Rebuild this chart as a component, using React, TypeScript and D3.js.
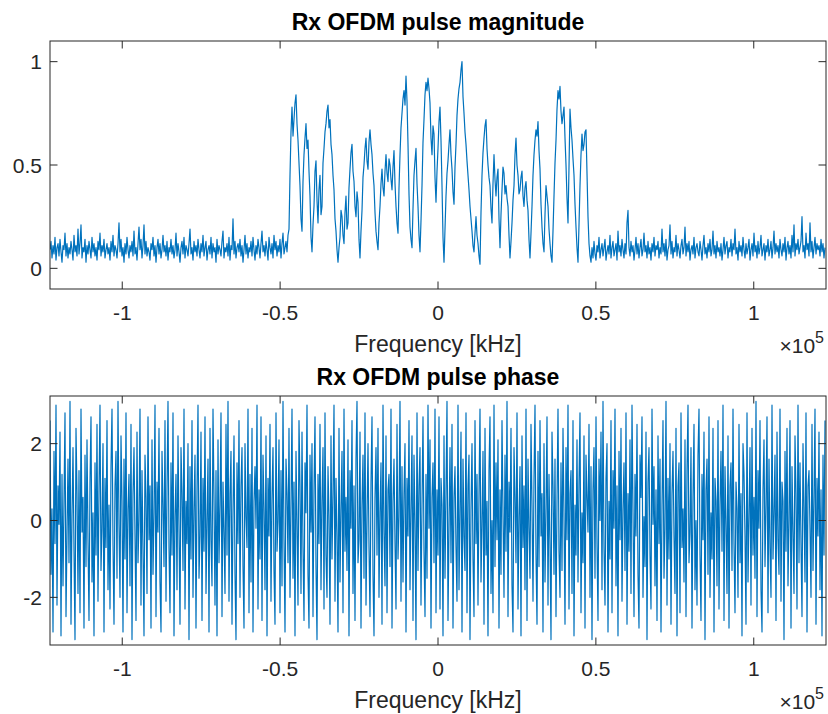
import React, { useEffect, useRef } from 'react';
import * as d3 from 'd3';

// sample rate [Hz]; the spectrum spans -fs/2 .. fs/2
const FS = 245760;

const xTicks = [-1e5, -0.5e5, 0, 0.5e5, 1e5];
const xTickLabels = ['-1', '-0.5', '0', '0.5', '1'];
const magTicks = [0, 0.5, 1];
const magTickLabels = ['0', '0.5', '1'];
const phaseTicks = [-2, 0, 2];
const phaseTickLabels = ['-2', '0', '2'];

// |X(f)|, left noise floor
const magNoiseLeft = [
  0.09, 0.13, 0.05, 0.11, 0.07, 0.15, 0.04, 0.10, 0.12, 0.06,
  0.14, 0.08, 0.03, 0.11, 0.09, 0.17, 0.06, 0.12, 0.05, 0.10,
  0.07, 0.13, 0.09, 0.04, 0.16, 0.08, 0.11, 0.06, 0.19, 0.07,
  0.12, 0.21, 0.05, 0.10, 0.08, 0.14, 0.03, 0.11, 0.07, 0.13,
  0.09, 0.05, 0.15, 0.08, 0.12, 0.06, 0.10, 0.04, 0.13, 0.09,
  0.17, 0.06, 0.11, 0.08, 0.14, 0.05, 0.09, 0.12, 0.07, 0.10,
  0.04, 0.13, 0.08, 0.16, 0.06, 0.11, 0.09, 0.05, 0.12, 0.22,
  0.08, 0.14, 0.06, 0.10, 0.03, 0.12, 0.07, 0.15, 0.09, 0.05,
  0.11, 0.08, 0.13, 0.06, 0.18, 0.07, 0.10, 0.04, 0.12, 0.20,
  0.09, 0.14, 0.05, 0.11, 0.21, 0.07, 0.13, 0.06, 0.10, 0.08,
  0.04, 0.12, 0.09, 0.15, 0.06, 0.11, 0.03, 0.10, 0.14, 0.07,
  0.12, 0.05, 0.09, 0.16, 0.08, 0.11, 0.06, 0.13, 0.04, 0.10,
  0.08, 0.14, 0.07, 0.11, 0.05, 0.09, 0.17, 0.06, 0.12, 0.08,
  0.03, 0.10, 0.13, 0.07, 0.15, 0.05, 0.11, 0.09, 0.06, 0.12,
  0.19, 0.07, 0.10, 0.04, 0.13, 0.08, 0.11, 0.06, 0.14, 0.09,
  0.05, 0.12, 0.08, 0.16, 0.06, 0.10, 0.13, 0.04, 0.09, 0.11,
  0.07, 0.15, 0.05, 0.12, 0.08, 0.10, 0.03, 0.14, 0.07, 0.11,
  0.09, 0.06, 0.13, 0.18, 0.05, 0.10, 0.08, 0.12, 0.06, 0.15,
  0.04, 0.11, 0.09, 0.24, 0.07, 0.13, 0.05, 0.10, 0.12, 0.08,
  0.14, 0.06, 0.11, 0.03, 0.09, 0.16, 0.07, 0.12, 0.05, 0.10,
  0.08, 0.13, 0.06, 0.15, 0.09, 0.04, 0.11, 0.07, 0.14, 0.10,
  0.05, 0.12, 0.18, 0.08, 0.11, 0.06, 0.13, 0.09, 0.04, 0.15,
  0.10, 0.07, 0.12, 0.05, 0.16, 0.09, 0.13, 0.06, 0.11, 0.08,
  0.14, 0.05, 0.12, 0.17, 0.07, 0.10, 0.13, 0.08, 0.16, 0.19,
];

// occupied OFDM band
const magBand = [
  0.45, 0.66, 0.78, 0.64, 0.72, 0.80, 0.84, 0.70, 0.62, 0.51, 0.40, 0.24, 0.18, 0.42, 0.55, 0.63, 0.70, 0.58, 0.62, 0.47,
  0.35, 0.15, 0.08, 0.21, 0.30, 0.47, 0.52, 0.33, 0.22, 0.38, 0.45, 0.26, 0.30, 0.51, 0.58, 0.66, 0.70, 0.76, 0.79, 0.68,
  0.72, 0.60, 0.55, 0.45, 0.38, 0.24, 0.18, 0.09, 0.03, 0.10, 0.15, 0.28, 0.25, 0.16, 0.12, 0.27, 0.35, 0.19, 0.22, 0.39,
  0.48, 0.56, 0.60, 0.47, 0.42, 0.30, 0.25, 0.37, 0.32, 0.14, 0.05, 0.18, 0.28, 0.44, 0.50, 0.58, 0.63, 0.52, 0.48, 0.61,
  0.67, 0.60, 0.55, 0.46, 0.40, 0.27, 0.18, 0.13, 0.09, 0.22, 0.30, 0.41, 0.48, 0.39, 0.35, 0.47, 0.55, 0.46, 0.42, 0.53,
  0.50, 0.43, 0.38, 0.49, 0.57, 0.41, 0.30, 0.22, 0.17, 0.39, 0.55, 0.68, 0.75, 0.82, 0.86, 0.79, 0.93, 0.81, 0.60, 0.36,
  0.20, 0.14, 0.10, 0.29, 0.45, 0.52, 0.58, 0.41, 0.30, 0.16, 0.08, 0.23, 0.40, 0.61, 0.72, 0.84, 0.90, 0.86, 0.92, 0.87,
  0.80, 0.63, 0.55, 0.69, 0.65, 0.44, 0.32, 0.47, 0.58, 0.71, 0.78, 0.62, 0.40, 0.15, 0.03, 0.19, 0.35, 0.46, 0.52, 0.60,
  0.67, 0.55, 0.48, 0.37, 0.31, 0.49, 0.60, 0.74, 0.82, 0.87, 0.90, 0.96, 1.00, 0.83, 0.75, 0.66, 0.60, 0.52, 0.45, 0.38,
  0.30, 0.24, 0.18, 0.11, 0.08, 0.17, 0.25, 0.16, 0.12, 0.06, 0.02, 0.27, 0.45, 0.56, 0.63, 0.69, 0.72, 0.58, 0.50, 0.44,
  0.40, 0.29, 0.22, 0.41, 0.55, 0.43, 0.35, 0.44, 0.48, 0.24, 0.10, 0.26, 0.38, 0.49, 0.46, 0.36, 0.40, 0.34, 0.30, 0.16,
  0.05, 0.13, 0.22, 0.33, 0.40, 0.55, 0.63, 0.50, 0.45, 0.36, 0.38, 0.44, 0.47, 0.35, 0.30, 0.39, 0.42, 0.33, 0.28, 0.14,
  0.05, 0.17, 0.30, 0.45, 0.55, 0.62, 0.67, 0.64, 0.71, 0.57, 0.48, 0.31, 0.20, 0.12, 0.08, 0.26, 0.40, 0.35, 0.30, 0.19,
  0.12, 0.06, 0.03, 0.18, 0.35, 0.51, 0.62, 0.77, 0.86, 0.82, 0.88, 0.76, 0.70, 0.74, 0.78, 0.63, 0.50, 0.34, 0.22, 0.49,
  0.77, 0.68, 0.62, 0.53, 0.45, 0.31, 0.20, 0.10, 0.03, 0.21, 0.40, 0.55, 0.65, 0.57, 0.60, 0.66, 0.67, 0.46, 0.25, 0.12,
];

// right noise floor
const magNoiseRight = [
  0.06, 0.03, 0.10, 0.05, 0.13, 0.07, 0.04, 0.11, 0.08, 0.15,
  0.05, 0.09, 0.12, 0.06, 0.10, 0.14, 0.04, 0.08, 0.11, 0.07,
  0.16, 0.05, 0.10, 0.13, 0.06, 0.09, 0.12, 0.04, 0.18, 0.08,
  0.11, 0.06, 0.14, 0.09, 0.05, 0.12, 0.07, 0.22, 0.28, 0.10,
  0.06, 0.13, 0.08, 0.11, 0.04, 0.09, 0.15, 0.07, 0.12, 0.05,
  0.10, 0.14, 0.06, 0.09, 0.17, 0.08, 0.11, 0.05, 0.13, 0.07,
  0.10, 0.04, 0.12, 0.08, 0.15, 0.06, 0.11, 0.09, 0.13, 0.05,
  0.10, 0.07, 0.19, 0.08, 0.12, 0.06, 0.14, 0.04, 0.09, 0.11,
  0.21, 0.07, 0.13, 0.05, 0.10, 0.08, 0.16, 0.06, 0.12, 0.09,
  0.05, 0.11, 0.14, 0.07, 0.10, 0.20, 0.06, 0.12, 0.08, 0.13,
  0.04, 0.09, 0.11, 0.07, 0.15, 0.05, 0.10, 0.12, 0.08, 0.06,
  0.13, 0.09, 0.04, 0.11, 0.16, 0.07, 0.10, 0.05, 0.12, 0.08,
  0.14, 0.06, 0.09, 0.18, 0.07, 0.11, 0.05, 0.13, 0.08, 0.10,
  0.06, 0.12, 0.04, 0.09, 0.15, 0.07, 0.11, 0.13, 0.05, 0.10,
  0.08, 0.14, 0.06, 0.12, 0.09, 0.19, 0.07, 0.10, 0.04, 0.13,
  0.08, 0.11, 0.06, 0.15, 0.09, 0.05, 0.12, 0.07, 0.10, 0.14,
  0.04, 0.09, 0.12, 0.06, 0.17, 0.08, 0.11, 0.05, 0.13, 0.07,
  0.10, 0.16, 0.06, 0.09, 0.12, 0.04, 0.11, 0.08, 0.14, 0.06,
  0.09, 0.13, 0.05, 0.10, 0.18, 0.07, 0.12, 0.08, 0.11, 0.05,
  0.14, 0.09, 0.06, 0.12, 0.08, 0.15, 0.04, 0.10, 0.13, 0.07,
  0.11, 0.05, 0.16, 0.08, 0.21, 0.06, 0.12, 0.09, 0.14, 0.07,
  0.10, 0.13, 0.25, 0.08, 0.11, 0.05, 0.17, 0.09, 0.12, 0.06,
  0.22, 0.08, 0.13, 0.05, 0.10, 0.15, 0.07, 0.12, 0.09, 0.11,
  0.06, 0.14, 0.08, 0.12, 0.05, 0.10,
];

// angle(X(f)) in rad, negative frequencies
const phaseLow = [
  2.6, -1.4, 0.3, -2.9, 1.8, -0.6, 3.0, -2.2, 0.9, -0.1, 2.3, -3.0, 1.2, -1.7, 0.5, 2.8, -2.5, -0.4, 1.6, -1.1,
  3.1, -2.7, 0.1, 1.9, -0.8, -3.1, 2.4, 0.7, -1.9, 1.3, -2.4, 2.9, -0.3, 0.6, -2.8, 1.7, -1.2, 2.1, -0.5, -2.6,
  1.0, 2.7, -1.6, 0.2, -3.0, 1.5, -0.9, 2.5, -2.1, 0.8, 3.0, -1.3, -0.2, 2.0, -2.9, 1.1, -0.7, 2.6, -1.8, 0.4,
  -2.3, 1.4, 2.9, -0.6, -2.7, 0.9, 1.8, -1.5, 3.1, -0.1, -2.0, 2.2, 0.5, -2.9, 1.6, -1.0, 2.8, -2.4, 0.3, 1.2,
  -1.7, 2.5, -3.1, 0.7, 1.9, -0.4, -2.6, 2.3, -1.1, 0.0, 2.9, -2.2, 1.3, -0.8, -3.0, 1.7, 0.6, -1.9, 2.7, -0.5,
  0.9, -2.8, 2.1, -1.4, 0.2, 3.0, -2.5, 1.0, -0.3, 2.4, -1.6, -2.9, 1.8, 0.4, -1.2, 2.6, -2.1, 0.8, 3.1, -0.7,
  -2.4, 1.5, -0.9, 2.8, -3.0, 0.1, 1.2, -1.8, 2.2, -0.2, -2.7, 1.9, 0.7, -1.3, 2.9, -2.3, 0.5, -0.6, 2.0, -3.1,
  1.4, -1.0, 2.6, -2.0, 0.3, 1.7, -2.8, 0.8, 3.0, -1.5, -0.4, 2.3, -2.6, 1.1, -0.8, 2.7, -1.9, 0.0, 1.6, -2.9,
  2.4, -0.5, -1.7, 2.9, 0.6, -2.2, 1.3, -3.0, 2.1, -1.1, 0.4, 2.8, -2.5, 1.0, -0.3, -1.9, 2.5, -0.9, 3.1, -2.1,
  0.7, 1.8, -2.7, 0.2, 2.2, -1.4, -3.1, 1.5, -0.6, 2.6, -2.0, 0.9, 1.9, -1.2, -2.8, 2.0, 0.1, -0.7, 2.9, -2.4,
  1.2, -1.6, 2.4, -2.9, 0.5, 1.4, -0.2, 3.0, -2.3, 0.8, -1.0, 2.7, -2.6, 1.7, 0.3, -1.8, 2.2, -3.0, 1.1, -0.4,
  2.5, -2.1, 0.6, 1.9, -1.3, -2.7, 2.8, -0.8, 0.0, 2.1, -2.4, 1.3, -1.7, 3.1, -0.5, -2.9, 1.6, 0.7, -1.1, 2.4,
  -2.0, 0.4, 2.9, -1.5, 1.0, -3.0, 1.8, -0.1, -2.2, 2.6, 0.9, -1.9, 2.3, -0.7, -2.6, 1.5, 0.2, 3.0, -1.4, -2.8,
  1.7, -0.3, 2.0, -2.5, 0.8, 2.7, -1.2, -3.1, 1.2, -0.6, 2.5, -1.8, 0.5, 1.9, -2.3, 2.8, -0.9, -2.0, 1.4, 0.1,
  -2.7, 2.2, -1.0, 0.7, 3.0, -2.1, 1.1, -0.4, -2.9, 2.4, -1.6, 0.3, 1.8, -2.4, 2.9, -0.8, 0.6, -1.3, 2.1, -3.0,
  1.3, -0.2, 2.6, -1.9, 0.9, -2.6, 1.6, 3.1, -1.1, -0.5, 2.3, -2.8, 0.4, 1.7, -1.5, 2.8, -2.2, 0.0, 2.0, -0.7,
  -2.5, 1.0, 2.7, -1.4, -3.0, 0.6, 1.9, -0.9, 2.4, -2.0, 0.2, 1.5, -2.7, 3.0, -0.3, -1.7, 2.2, -2.4, 0.8, 1.2,
  -1.2, 2.9, -2.8, 0.5, 1.6, -0.6, -2.3, 2.5, -1.0, 0.1, 3.1, -2.1, 1.4, -1.6, 0.7, 2.0, -2.9, 1.1, -0.4, 2.6,
  -1.8, 0.3, 2.2, -2.6, 1.7, -0.1, -3.1, 2.8, -1.3, 0.9, 1.9, -2.2, 0.4, 2.7, -0.8, -2.5, 1.2, -1.5, 3.0, -0.2,
  2.1, -2.8, 0.6, 1.5, -1.1, 2.9, -2.4, 0.8,
];

// positive frequencies
const phaseHigh = [
  -0.9, 2.7, -2.3, 1.1, 0.4, -3.0, 2.2, -1.5, 0.8, 3.1, -2.6, -0.2, 1.9, -1.1, 2.5, -2.8, 0.6, 1.4, -0.7, -2.1,
  3.0, -1.8, 0.2, 2.3, -2.9, 1.6, -0.4, -1.3, 2.8, -2.4, 0.9, 1.7, -3.1, 0.3, 2.0, -1.0, -2.5, 2.6, -0.6, 1.2,
  -2.2, 0.7, 2.9, -1.6, -0.1, 1.8, -2.7, 2.4, -0.9, 0.5, -3.0, 1.3, 2.7, -1.9, 0.0, -2.4, 3.0, -1.2, 1.5, -0.5,
  2.1, -2.8, 0.8, -1.4, 2.6, 0.2, -2.0, 1.7, -0.8, 3.1, -2.5, 1.0, -0.3, 2.4, -1.7, -2.9, 1.9, 0.6, -1.1, 2.8,
  -2.3, 0.1, 1.4, -3.0, 2.2, -0.7, 0.9, -1.8, 2.9, -2.6, 1.6, -0.2, -1.5, 2.5, 0.4, -2.1, 1.1, 3.0, -0.9, -2.7,
  1.8, -1.2, 2.6, -0.4, 0.7, -2.9, 2.0, -1.6, 0.3, 2.7, -2.2, 1.2, -0.6, -3.1, 2.3, 0.9, -1.4, 1.6, -2.5, 0.5,
  2.9, -0.8, -2.0, 1.5, -1.3, 2.4, 0.1, -2.7, 1.9, -0.5, 3.0, -2.3, 0.7, 1.3, -1.9, 2.6, -3.0, 0.4, -0.9, 2.1,
  -1.6, 1.0, 2.8, -2.4, 0.2, -1.1, 2.2, -2.8, 1.7, 0.6, -0.3, 2.5, -2.0, 1.4, -3.1, 0.8, 1.9, -1.5, 2.7, -0.6,
  -2.6, 1.6, 0.0, 2.3, -1.8, 3.1, -0.7, -2.2, 1.1, 2.0, -2.9, 0.5, -1.0, 2.6, -2.4, 1.3, -0.2, 2.9, -1.7, 0.9,
  -3.0, 1.8, -0.5, 2.4, -2.1, 0.3, 1.5, -1.3, 2.8, -2.7, 0.7, -0.8, 2.1, -1.9, 3.0, 0.2, -2.5, 1.2, -0.4, 2.5,
  -1.4, -2.8, 1.7, 0.6, 2.7, -2.0, 0.1, -1.2, 2.3, -3.1, 1.0, 1.9, -0.9, -2.3, 2.9, -0.1, 1.4, -1.7, 0.8, -2.6,
  2.2, -0.6, 1.6, -2.9, 0.4, 2.6, -1.5, -0.2, 3.1, -2.2, 1.1, -1.0, 2.0, -2.7, 0.7, 1.8, -0.4, -1.9, 2.4, -3.0,
  0.9, 1.5, -2.4, 2.8, -0.7, 0.3, -1.6, 2.1, -2.5, 1.3, 3.0, -1.1, -0.3, 1.9, -2.8, 0.6, 2.5, -1.8, 0.0, -2.2,
  1.7, 2.9, -0.9, -2.6, 1.2, -0.5, 2.3, -3.1, 0.8, 1.6, -1.4, 2.7, -2.0, 0.2, -1.0, 2.4, -2.9, 1.1, 0.5, -1.7,
  2.6, -2.3, 0.4, 1.8, -0.8, 3.0, -2.6, 1.4, -0.1, -1.9, 2.2, -2.8, 0.9, 1.5, -1.3, 2.9, -0.6, -2.4, 1.0, 0.3,
  -2.0, 2.5, -1.1, 0.7, -3.0, 2.0, 1.2, -0.4, -2.7, 2.8, -1.6, 0.1, 1.9, -2.2, 2.4, -0.9, 0.6, -1.5, 3.1, -2.5,
  1.3, -0.2, 2.6, -1.8, -2.9, 0.8, 2.1, -1.2, 0.4, 2.7, -2.4, 1.6, -0.7, -2.0, 3.0, -1.0, 0.2, 1.7, -2.6, 2.3,
  -0.5, -1.4, 2.9, -2.1, 1.0, 0.5, -3.1, 1.8, -0.8, 2.4, -1.7, 0.0, 2.6, -2.8, 1.4, -0.3, -1.9, 2.2, 0.7, -2.3,
  3.0, -1.1, 1.5, -0.6, -2.5, 2.0, 0.3, -1.6, 2.8, -2.9, 0.9, 1.3, -0.2, -2.0, 2.5, -1.3, 0.6, 2.9, -2.7, 1.1,
  -0.4, 2.3, -1.8, 0.8, -3.0, 1.7, -0.9, 2.6,
];

const magnitude = [...magNoiseLeft, ...magBand, ...magNoiseRight];
const phase = [...phaseLow, ...phaseHigh];

const W = 828;
const H = 714;
const FONT = 'Arial, "Liberation Sans", Helvetica, sans-serif';
const TEXT = '#262626';
const AXIS = '#262626';
const LINE = '#0072BD';

const drawPanel = (svg, opts) => {
  const { values, top, bottom, yDomain, yTicks, yLabels, title, id } = opts;
  const left = 50;
  const right = 826;
  const tickLen = 7.5;

  const idx = d3.scaleLinear().domain([0, values.length]).range([-FS / 2, FS / 2]);
  const x = d3.scaleLinear().domain([-FS / 2, FS / 2]).range([left, right]);
  const y = d3.scaleLinear().domain(yDomain).range([bottom, top]);

  const g = svg.append('g');

  g.append('clipPath')
    .attr('id', id)
    .append('rect')
    .attr('x', left)
    .attr('y', top)
    .attr('width', right - left)
    .attr('height', bottom - top);

  const line = d3
    .line()
    .x((d, i) => x(idx(i)))
    .y((d) => y(d));

  g.append('path')
    .datum(values)
    .attr('clip-path', `url(#${id})`)
    .attr('fill', 'none')
    .attr('stroke', LINE)
    .attr('stroke-width', 1.2)
    .attr('stroke-linejoin', 'round')
    .attr('d', line);

  // box
  g.append('rect')
    .attr('x', left)
    .attr('y', top)
    .attr('width', right - left)
    .attr('height', bottom - top)
    .attr('fill', 'none')
    .attr('stroke', AXIS)
    .attr('stroke-width', 1);

  // x ticks (inward, bottom and top)
  xTicks.forEach((t, i) => {
    const px = x(t);
    g.append('line')
      .attr('x1', px).attr('x2', px)
      .attr('y1', bottom).attr('y2', bottom - tickLen)
      .attr('stroke', AXIS);
    g.append('line')
      .attr('x1', px).attr('x2', px)
      .attr('y1', top).attr('y2', top + tickLen)
      .attr('stroke', AXIS);
    g.append('text')
      .attr('x', px)
      .attr('y', bottom + 31)
      .attr('text-anchor', 'middle')
      .attr('font-family', FONT)
      .attr('font-size', 21)
      .attr('fill', TEXT)
      .text(xTickLabels[i]);
  });

  // y ticks (inward, left and right)
  yTicks.forEach((t, i) => {
    const py = y(t);
    g.append('line')
      .attr('x1', left).attr('x2', left + tickLen)
      .attr('y1', py).attr('y2', py)
      .attr('stroke', AXIS);
    g.append('line')
      .attr('x1', right).attr('x2', right - tickLen)
      .attr('y1', py).attr('y2', py)
      .attr('stroke', AXIS);
    g.append('text')
      .attr('x', left - 8)
      .attr('y', py)
      .attr('dy', '0.36em')
      .attr('text-anchor', 'end')
      .attr('font-family', FONT)
      .attr('font-size', 21)
      .attr('fill', TEXT)
      .text(yLabels[i]);
  });

  // title
  g.append('text')
    .attr('x', (left + right) / 2)
    .attr('y', top - 11)
    .attr('text-anchor', 'middle')
    .attr('font-family', FONT)
    .attr('font-size', 23)
    .attr('font-weight', 'bold')
    .attr('fill', '#000')
    .text(title);

  // x label
  g.append('text')
    .attr('x', (left + right) / 2)
    .attr('y', bottom + 63)
    .attr('text-anchor', 'middle')
    .attr('font-family', FONT)
    .attr('font-size', 23)
    .attr('fill', TEXT)
    .text('Frequency [kHz]');

  // exponent
  const ex = g.append('text')
    .attr('x', right - 2)
    .attr('y', bottom + 64)
    .attr('text-anchor', 'end')
    .attr('font-family', FONT)
    .attr('font-size', 21)
    .attr('fill', TEXT);
  ex.append('tspan').text('\u00d710');
  ex.append('tspan').attr('font-size', 16).attr('dy', -10).text('5');
};

const App = () => {
  const svgRef = useRef();

  useEffect(() => {
    d3.select(svgRef.current).selectAll('*').remove();
    const svg = d3.select(svgRef.current);

    drawPanel(svg, {
      id: 'clip-mag',
      values: magnitude,
      top: 41,
      bottom: 289,
      yDomain: [-0.1, 1.1],
      yTicks: magTicks,
      yLabels: magTickLabels,
      title: 'Rx OFDM pulse magnitude',
    });

    drawPanel(svg, {
      id: 'clip-phase',
      values: phase,
      top: 396,
      bottom: 645,
      yDomain: [-3.24, 3.24],
      yTicks: phaseTicks,
      yLabels: phaseTickLabels,
      title: 'Rx OFDM pulse phase',
    });
  }, []);

  return (
    <svg
      ref={svgRef}
      width={W}
      height={H}
      style={{ position: 'absolute', left: 0, top: 0, background: '#fff' }}
    />
  );
};

export default App;
